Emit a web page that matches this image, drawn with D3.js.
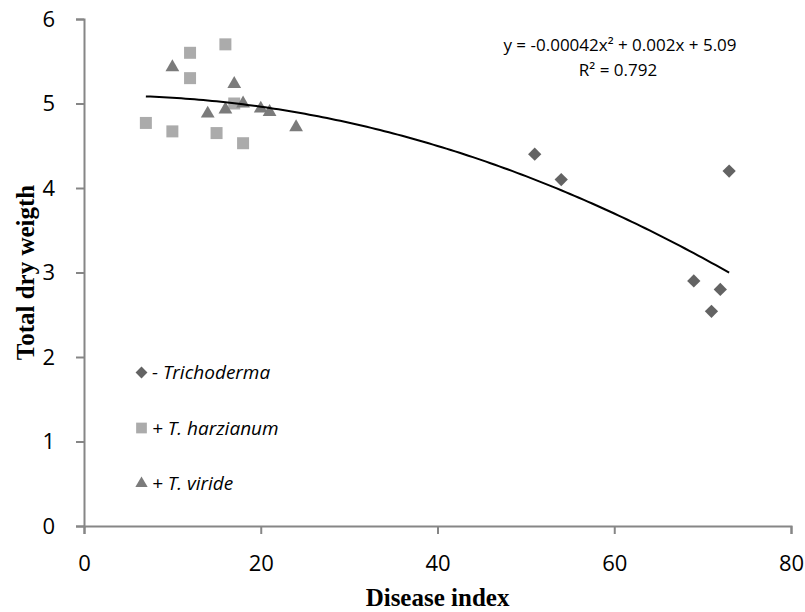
<!DOCTYPE html>
<html>
<head>
<meta charset="utf-8">
<script src="https://cdn.jsdelivr.net/npm/d3@7"></script>
<style>
  body { margin: 0; background: #fff; }
  .tick text { font-family: "Open Sans", sans-serif; font-size: 22px; fill: #000; }
  .domain, .tick line { stroke: #868686; stroke-width: 2px; }
</style>
</head>
<body>
<div id="chart"></div>
<script>
// - Trichoderma
var trichX = [51, 54, 69, 71, 72, 73];
var trichY = [4.4, 4.1, 2.9, 2.54, 2.8, 4.2];
// + T. harzianum
var harzX = [7, 10, 12, 12, 15, 16, 17, 18];
var harzY = [4.77, 4.67, 5.6, 5.3, 4.65, 5.7, 5.0, 4.53];
// + T. viride
var viridX = [10, 14, 16, 17, 18, 20, 21, 24];
var viridY = [5.43, 4.88, 4.93, 5.23, 5.0, 4.94, 4.9, 4.72];

var xTicks = [0, 20, 40, 60, 80];
var yTicks = [0, 1, 2, 3, 4, 5, 6];

// trendline from the label: y = -0.00042x² + 0.002x + 5.09, drawn over x 7..73
var trendCoef = [-0.00042, 0.002, 5.09];
var trendRange = [7, 73];

var width = 805, height = 612;
var margin = {top: 19, right: 14, bottom: 86, left: 84};

var svg = d3.select("#chart").append("svg")
    .attr("width", width)
    .attr("height", height);

var x = d3.scaleLinear().domain([0, 80]).range([margin.left, width - margin.right]);
var y = d3.scaleLinear().domain([0, 6]).range([height - margin.bottom, margin.top]);

svg.append("g")
    .attr("transform", "translate(0," + y(0) + ")")
    .call(d3.axisBottom(x).tickValues(xTicks).tickFormat(d3.format("d"))
      .tickSize(8).tickPadding(21).tickSizeOuter(8));

svg.append("g")
    .attr("transform", "translate(" + x(0) + ",0)")
    .call(d3.axisLeft(y).tickValues(yTicks).tickFormat(d3.format("d"))
      .tickSize(8).tickPadding(21).tickSizeOuter(8));

svg.append("text")
    .attr("x", (x(0) + x(80)) / 2)
    .attr("y", 606)
    .attr("text-anchor", "middle")
    .style("font-family", "'Liberation Serif', serif")
    .style("font-weight", "bold")
    .style("font-size", "25px")
    .text("Disease index");

svg.append("text")
    .attr("transform", "translate(34," + (y(3)) + ") rotate(-90)")
    .attr("text-anchor", "middle")
    .style("font-family", "'Liberation Serif', serif")
    .style("font-weight", "bold")
    .style("font-size", "25px")
    .text("Total dry weigth");

var series = [
  {name: "- Trichoderma", xs: trichX, ys: trichY, type: "diamond", color: "#636363"},
  {name: "+ T. harzianum", xs: harzX, ys: harzY, type: "square", color: "#ababab"},
  {name: "+ T. viride", xs: viridX, ys: viridY, type: "triangle", color: "#7b7b7b"}
];

function marker(type, scale) {
  if (type === "diamond") return d3.symbol(d3.symbolSquare, 88 * scale)();
  if (type === "square") return d3.symbol(d3.symbolSquare, 144 * scale)();
  return d3.symbol(d3.symbolTriangle, 82 * scale)();
}

series.forEach(function (s) {
  var pts = s.xs.map(function (v, i) { return [v, s.ys[i]]; });
  svg.append("g").selectAll("path")
      .data(pts)
    .enter().append("path")
      .attr("d", marker(s.type, 1))
      .attr("transform", function (d) {
        return "translate(" + x(d[0]) + "," + y(d[1]) + ")" + (s.type === "diamond" ? " rotate(45)" : "");
      })
      .style("fill", s.color);
});

// trendline
var trendPts = d3.range(trendRange[0], trendRange[1] + 0.01, 0.5).map(function (v) {
  return [v, trendCoef[0] * v * v + trendCoef[1] * v + trendCoef[2]];
});
svg.append("path")
    .datum(trendPts)
    .attr("d", d3.line().x(function (d) { return x(d[0]); }).y(function (d) { return y(d[1]); }))
    .style("fill", "none")
    .style("stroke", "#000")
    .style("stroke-width", 2);

var eq = svg.append("text")
    .attr("text-anchor", "middle")
    .style("font-family", "'Open Sans', sans-serif")
    .style("font-size", "17px");
eq.append("tspan").attr("x", 620).attr("y", 51).text("y = -0.00042x² + 0.002x + 5.09");
eq.append("tspan").attr("x", 618).attr("y", 76).text("R² = 0.792");

// legend
var legend = svg.append("g");
series.forEach(function (s, i) {
  var ly = 372.5 + i * 55.5;
  legend.append("path")
      .attr("d", marker(s.type, 0.8))
      .attr("transform", "translate(141.5," + ly + ")" + (s.type === "diamond" ? " rotate(45)" : ""))
      .style("fill", s.color);
  legend.append("text")
      .attr("x", 152)
      .attr("y", ly)
      .attr("dy", "0.36em")
      .style("font-family", "'Open Sans', sans-serif")
      .style("font-style", "italic")
      .style("font-size", "19px")
      .text(s.name);
});
</script>
</body>
</html>
